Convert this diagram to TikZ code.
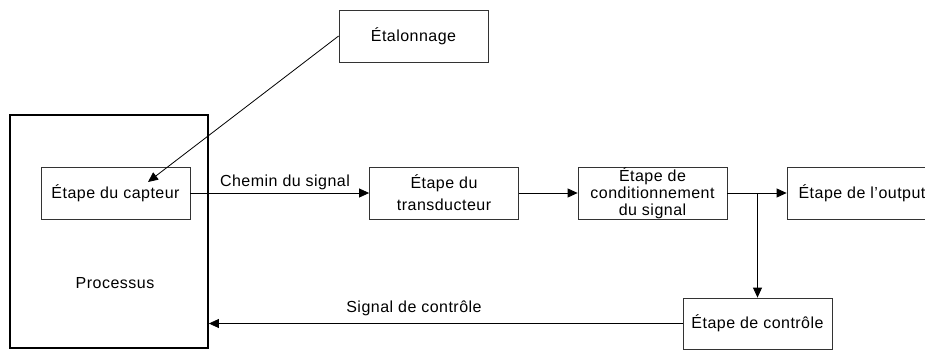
\documentclass[tikz,border=0pt]{standalone}
\usepackage{fontspec}
\setmainfont[LetterSpace=3]{Liberation Sans}
\usetikzlibrary{arrows.meta}
\begin{document}
\begin{tikzpicture}[x=1pt,y=-1pt,
  font=\fontsize{16}{17}\selectfont,
  box/.style={draw=black!80, line width=0.8pt, minimum width=149pt, minimum height=52pt, inner sep=0pt, align=center},
  conn/.style={line width=0.8pt},
  arr/.style={conn, -{Triangle[length=10pt,width=9pt]}}]
\useasboundingbox (0,0) rectangle (925,350);
\node[draw, line width=1.8pt, minimum width=198pt, minimum height=233pt, inner sep=0pt] (proc) at (109,231.5) {};
\node (proctext) at (115,283) {Processus};
\node[box] (capt) at (115.5,193) {Étape du capteur};
\node[box, font=\fontsize{16}{22}\selectfont] (trans) at (444,193) {Étape du\\transducteur};
\node[box] (cond) at (652.5,193) {Étape de\\conditionnement\\du signal};
\node[box, minimum width=150pt] (out) at (862,193) {Étape de l'output};
\node[box] (etal) at (413.5,36) {Étalonnage};
\node[box, minimum height=51pt] (ctrl) at (757.5,323.5) {Étape de contrôle};
\coordinate (tip) at (148,182);
\coordinate (br) at (ctrl.north |- cond.east);
\draw[arr] (capt.east) -- (trans.west);
\node (lblsig) at (285,182) {Chemin du signal};
\draw[arr] (trans.east) -- (cond.west);
\draw[arr] (cond.east) -- (out.west);
\draw[arr] (br) -- (ctrl.north);
\draw[arr] (ctrl.west) -- (proc.east |- ctrl.west);
\node (lblctrl) at (414,308) {Signal de contrôle};
\draw[arr] (etal.west) -- (tip);
\end{tikzpicture}
\end{document}
